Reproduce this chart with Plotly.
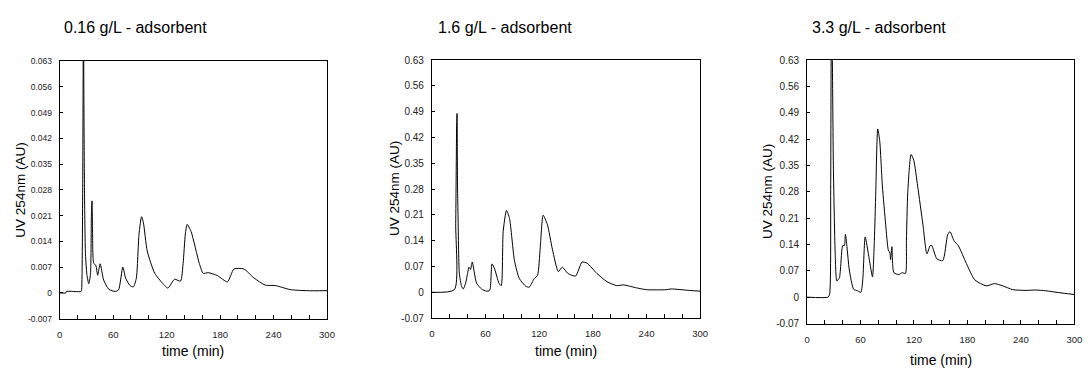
import plotly.graph_objects as go

# ---------------- data ----------------
titles = ["0.16 g/L - adsorbent", "1.6 g/L - adsorbent", "3.3 g/L - adsorbent"]
x_title = "time (min)"
y_title = "UV 254nm (AU)"

x_ticks = [0, 60, 120, 180, 240, 300]
x_tick_labels = ["0", "60", "120", "180", "240", "300"]

y1_ticks = [-0.007, 0, 0.007, 0.014, 0.021, 0.028, 0.035, 0.042, 0.049, 0.056, 0.063]
y1_tick_labels = ["-0.007", "0", "0.007", "0.014", "0.021", "0.028", "0.035", "0.042", "0.049", "0.056", "0.063"]
y23_ticks = [-0.07, 0, 0.07, 0.14, 0.21, 0.28, 0.35, 0.42, 0.49, 0.56, 0.63]
y23_tick_labels = ["-0.07", "0", "0.07", "0.14", "0.21", "0.28", "0.35", "0.42", "0.49", "0.56", "0.63"]

t1 = [0, 7, 7.5, 24, 24.6, 25.8, 26.6, 27.2, 27.8, 28.9, 30.5, 32.6, 34.5, 35.6, 36.3, 36.8,
      38.2, 40.5, 42.6, 45.4, 49.3, 55, 62, 66, 70.8, 74, 78.9, 82.6, 86, 89, 91.9, 94, 98.2,
      106.7, 117.8, 121.5, 128.9, 135.6, 138.5, 141, 143, 147.4, 156.7, 161.1, 166.7, 177.1,
      188.2, 195.6, 206.7, 217.8, 230.8, 241.9, 258.6, 277.1, 300]
v1 = [0, 0, 0.0004, 0.0004, 0.001, 0.03, 0.075, 0.05, 0.0277, 0.0105, 0.005, 0.0025, 0.005,
      0.022, 0.025, 0.018, 0.008, 0.0075, 0.0048, 0.0079, 0.0035, 0.001, 0.0004, 0.0008, 0.007,
      0.004, 0.002, 0.0016, 0.004, 0.016, 0.0207, 0.019, 0.0114, 0.0053, 0.002, 0.0013, 0.0037,
      0.0032, 0.008, 0.016, 0.0186, 0.0167, 0.008, 0.0053, 0.0055, 0.0047, 0.003, 0.0065,
      0.0065, 0.0041, 0.0021, 0.002, 0.0009, 0.0006, 0.0006]

t2 = [0, 25.1, 26.6, 27.7, 28.1, 28.6, 29.2, 30.7, 33.2, 35.1, 37.7, 39.9, 41.4, 43.2, 45.1,
      49.9, 55.4, 60.9, 64.6, 67.2, 70.2, 74.9, 77.5, 79.7, 83.4, 86.8, 92.3, 97.8, 105.2,
      108.9, 114.4, 118.1, 121.1, 124.4, 129.2, 134.7, 141.4, 145.8, 152.1, 160.6, 167.9,
      173.5, 184.5, 195.6, 206.7, 214.1, 228.8, 239.9, 262, 267.5, 287.9, 300]
v2 = [0, 0.007, 0.186, 0.46, 0.485, 0.3, 0.21, 0.051, 0.016, 0.009, 0.025, 0.051, 0.068,
      0.062, 0.082, 0.025, 0.009, 0.003, 0.005, 0.077, 0.063, 0.025, 0.018, 0.165, 0.222, 0.2,
      0.086, 0.037, 0.016, 0.014, 0.037, 0.046, 0.12, 0.209, 0.183, 0.117, 0.056, 0.068, 0.051,
      0.044, 0.082, 0.079, 0.051, 0.029, 0.018, 0.02, 0.012, 0.007, 0.007, 0.009, 0.005, 0.003]

t3 = [0, 23.4, 25.2, 26.5, 27.3, 28.2, 29.5, 31.5, 33.4, 36.3, 40, 41.9, 43, 44.5, 47.4, 52.3,
      56.7, 60.4, 62.6, 65.2, 69.7, 73.4, 75.5, 77.1, 79.3, 81.5, 84.5, 88.2, 91.1, 93, 93.7,
      95.2, 97.4, 103, 106.7, 110.4, 111.5, 113, 116.7, 119.7, 124.1, 130, 134.5, 138.2, 140,
      145.6, 152.3, 157.8, 160.4, 164.9, 169.7, 178.9, 188.2, 201.1, 210.4, 219.7, 230.8,
      245.6, 256.7, 267.8, 282.6, 300]
v3 = [0, 0, 0.007, 0.3, 0.7, 0.65, 0.35, 0.12, 0.043, 0.052, 0.137, 0.137, 0.167, 0.14, 0.072,
      0.021, 0.017, 0.013, 0.05, 0.16, 0.102, 0.054, 0.15, 0.28, 0.447, 0.416, 0.296, 0.193,
      0.126, 0.117, 0.1, 0.134, 0.065, 0.06, 0.065, 0.063, 0.15, 0.278, 0.379, 0.364, 0.295,
      0.193, 0.115, 0.137, 0.137, 0.102, 0.097, 0.166, 0.174, 0.15, 0.137, 0.089, 0.046, 0.03,
      0.036, 0.03, 0.02, 0.018, 0.019, 0.017, 0.012, 0.007]

# ---------------- layout ----------------
W, H = 1088, 369
FONT = "Arial, 'Liberation Sans', sans-serif"

panels = [
    dict(t=t1, v=v1, px=(57.3, 327.3), py=(57.7, 323.3), yr=(-0.007, 0.063),
         yt=y1_ticks, ytl=y1_tick_labels, yfs=8.5, ytitle_x=18, xtitle_y=357, title_x=60),
    dict(t=t2, v=v2, px=(433.3, 704.3), py=(56.7, 322.7), yr=(-0.07, 0.63),
         yt=y23_ticks, ytl=y23_tick_labels, yfs=10, ytitle_x=395, xtitle_y=357, title_x=437.7),
    dict(t=t3, v=v3, px=(812.3, 1082.3), py=(56.7, 328.3), yr=(-0.07, 0.63),
         yt=y23_ticks, ytl=y23_tick_labels, yfs=10, ytitle_x=773, xtitle_y=366, title_x=815.7),
]

fig = go.Figure()
annotations = []
for i, p in enumerate(panels):
    n = "" if i == 0 else str(i + 1)
    fig.add_trace(go.Scatter(x=p["t"], y=p["v"], mode="lines",
                             line=dict(color="black", width=1, shape="spline", smoothing=0.6),
                             xaxis="x" + n, yaxis="y" + n, showlegend=False,
                             hoverinfo="skip"))
    xd = [p["px"][0] / W, p["px"][1] / W]
    yd = [1 - p["py"][1] / H, 1 - p["py"][0] / H]
    fig.layout["xaxis" + n] = dict(
        domain=xd, range=[0, 300], anchor="y" + n,
        tickvals=x_ticks, ticktext=x_tick_labels,
        ticks="inside", ticklen=4, tickcolor="black", tickwidth=1,
        minor=dict(dtick=20, tick0=0, ticks="inside", ticklen=4, tickcolor="black"),
        showline=True, linecolor="black", linewidth=1, mirror=True,
        showgrid=False, zeroline=False, ticklabelstandoff=7,
        tickfont=dict(family=FONT, size=9.5, color="#222"),
    )
    fig.layout["yaxis" + n] = dict(
        domain=yd, range=list(p["yr"]), anchor="x" + n,
        tickvals=p["yt"], ticktext=p["ytl"],
        ticks="inside", ticklen=3, tickcolor="black", tickwidth=1,
        showline=True, linecolor="black", linewidth=1, mirror=True,
        showgrid=False, zeroline=False, ticklabelstandoff=5,
        tickfont=dict(family=FONT, size=p["yfs"], color="#222"),
    )
    annotations.append(dict(text=titles[i], x=p["title_x"] / W, y=1 - 23 / H,
                            xref="paper", yref="paper", xanchor="left", yanchor="middle",
                            showarrow=False, font=dict(family=FONT, size=16, color="black")))
    annotations.append(dict(text=y_title, x=p["ytitle_x"] / W,
                            y=1 - ((p["py"][0] + p["py"][1]) / 2) / H,
                            xref="paper", yref="paper", xanchor="center", yanchor="middle",
                            textangle=-90, showarrow=False,
                            font=dict(family=FONT, size=13.5, color="black")))
    annotations.append(dict(text=x_title, x=((p["px"][0] + p["px"][1]) / 2) / W,
                            y=1 - p["xtitle_y"] / H,
                            xref="paper", yref="paper", xanchor="center", yanchor="middle",
                            showarrow=False, font=dict(family=FONT, size=14, color="black")))

fig.update_layout(width=W, height=H, margin=dict(l=0, r=0, t=0, b=0),
                  paper_bgcolor="white", plot_bgcolor="white",
                  annotations=annotations, showlegend=False)

fig.write_html("out.html")
